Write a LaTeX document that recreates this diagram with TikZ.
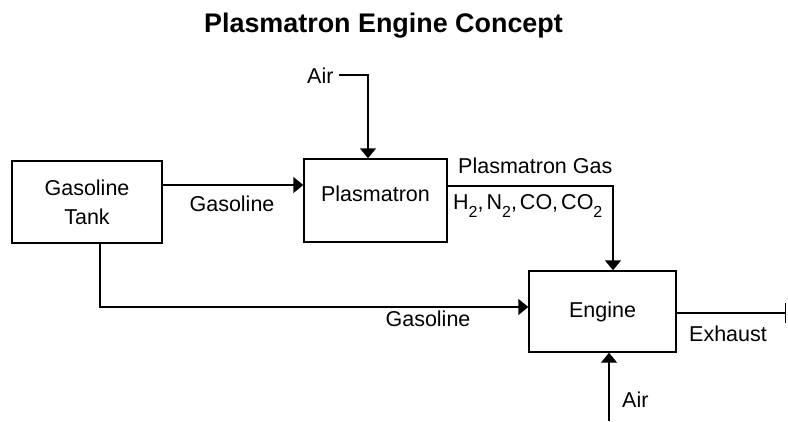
\documentclass[tikz,border=0pt]{standalone}
\usepackage{fontspec}
\setmainfont{Liberation Sans}
\usetikzlibrary{arrows.meta}
\newcommand\lowsub{\raisebox{-8pt}{\fontsize{16}{16}\selectfont 2}}
\newcommand\csep{,\hspace{3pt}}
\begin{document}
\begin{tikzpicture}[x=1pt,y=-1pt,
  box/.style={draw,line width=1.4pt,inner sep=0pt,font=\fontsize{21.5}{29}\selectfont},
  lbl/.style={inner sep=0pt,font=\fontsize{21.5}{29}\selectfont},
  flow/.style={line width=1.4pt,-{Triangle[length=10pt,width=16pt]}},
  plain/.style={line width=1.4pt}]
\useasboundingbox[fill=white] (0,0) rectangle (788,421);
\node[inner sep=0pt,anchor=base,font=\bfseries\fontsize{26.9}{30}\selectfont] (title) at (383.5,32) {Plasmatron Engine Concept};
% boxes
\node[box,minimum width=150,minimum height=82,align=center] (tank) at (87,202) {Gasoline\\Tank};
\node[box,minimum width=143,minimum height=83,text depth=14.5pt] (plasma) at (375.5,200.5) {Plasmatron};
\node[box,minimum width=147,minimum height=81] (engine) at (602.5,311.5) {Engine};
% helper points
\coordinate (g1y) at (0,185);
\coordinate (airT) at (339,75);
\coordinate (airTc) at (368,75);
\coordinate (pg) at (613,186);
\coordinate (tk) at (100,307);
\coordinate (ex) at (786,313);
\coordinate (ab) at (609,421);
% connectors
\draw[flow] (tank.east |- g1y) -- (plasma.west |- g1y);
\draw[flow] (airT) -- (airTc) -- (airTc |- plasma.north);
\draw[flow] (plasma.east |- pg) -- (pg) -- (pg |- engine.north);
\draw[flow] (tank.south -| tk) -- (tk) -- (engine.west |- tk);
\draw[plain,-{Bar[width=20pt]}] (engine.east |- ex) -- (ex);
\draw[flow] (ab) -- (ab |- engine.south);
% labels
\node[lbl,anchor=base west] (airTl) at (307,83) {Air};
\node[lbl,anchor=base] (g1) at (232,211) {Gasoline};
\node[lbl,anchor=base west] (pgas) at (458,173) {Plasmatron Gas};
\node[lbl,anchor=base west] (comp) at (453,209) {H\lowsub\csep N\lowsub\csep CO\csep CO\lowsub};
\node[lbl,anchor=base] (g2) at (428,326) {Gasoline};
\node[lbl,anchor=base west] (exl) at (689,341) {Exhaust};
\node[lbl,anchor=base west] (airB) at (622,407) {Air};
\end{tikzpicture}
\end{document}
